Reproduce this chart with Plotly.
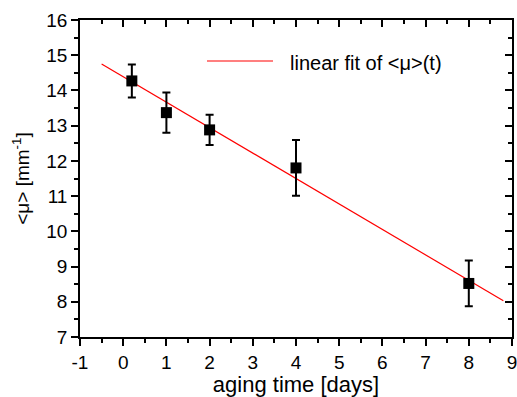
import plotly.graph_objects as go

t_days = [0.2, 1, 2, 4, 8]
mu_mean = [14.27, 13.37, 12.88, 11.8, 8.52]
mu_err = [0.47, 0.57, 0.43, 0.79, 0.65]

fit_t = [-0.5, 8.8]
fit_mu = [14.75, 8.03]

x_ticks = list(range(-1, 10))
x_labels = [str(v) for v in x_ticks]  # plain hyphen-minus as in the reference
y_ticks = list(range(7, 17))
y_labels = [str(v) for v in y_ticks]

legend_label = "linear fit of &lt;μ&gt;(t)"

FONT = "Liberation Sans, Arial, Helvetica, sans-serif"
L, R, T, B = 80, 5, 20, 60
W, H = 517, 397

fig = go.Figure()
fig.add_trace(go.Scatter(
    x=fit_t, y=fit_mu, mode="lines",
    line=dict(color="#ff0000", width=1.2),
    showlegend=False, hoverinfo="skip"))
fig.add_trace(go.Scatter(
    x=t_days, y=mu_mean, mode="markers",
    marker=dict(symbol="square", size=11, color="black"),
    error_y=dict(type="data", array=mu_err, color="black", thickness=2, width=4),
    showlegend=False))

axis_common = dict(showgrid=False, zeroline=False, linecolor="black", linewidth=1.5,
                   tickcolor="black", tickwidth=1.5, showline=True, automargin=False)

fig.update_layout(
    width=W, height=H,
    margin=dict(l=L, r=R, t=T, b=B),
    plot_bgcolor="white", paper_bgcolor="white",
    font=dict(family=FONT, color="black", size=18),
    showlegend=False,
    xaxis=dict(range=[-1, 9], tickvals=x_ticks, ticktext=x_labels, ticks="outside", ticklen=7,
               minor=dict(dtick=0.5, ticks="outside", ticklen=4, tickcolor="black", tickwidth=1.5),
               title=dict(text="aging time [days]", font=dict(size=22), standoff=2),
               tickfont=dict(size=19), ticklabeloverflow="allow", **axis_common),
    yaxis=dict(range=[7, 16], tickvals=y_ticks, ticktext=y_labels, ticks="outside", ticklen=7,
               minor=dict(dtick=0.5, ticks="outside", ticklen=4, tickcolor="black", tickwidth=1.5),
               title=dict(text="&lt;μ&gt; [mm<sup>-1</sup>]", font=dict(size=19), standoff=12),
               tickfont=dict(size=19), ticklabeloverflow="allow", **axis_common),
    xaxis2=dict(range=[-1, 9], overlaying="x", side="top", tickvals=x_ticks, ticks="inside",
                ticklen=7, showticklabels=False,
                minor=dict(dtick=0.5, ticks="inside", ticklen=4, tickcolor="black", tickwidth=1.5),
                **axis_common),
    yaxis2=dict(range=[7, 16], overlaying="y", side="right", tickvals=y_ticks, ticks="inside",
                ticklen=7, showticklabels=False,
                minor=dict(dtick=0.5, ticks="inside", ticklen=4, tickcolor="black", tickwidth=1.5),
                **axis_common),
)
fig.add_trace(go.Scatter(x=[None], y=[None], xaxis="x2", yaxis="y2", showlegend=False, hoverinfo="skip"))

# manual legend (longer line sample than plotly's built-in legend)
pw, ph = W - L - R, H - T - B
def px_x(p): return (p - L) / pw
def px_y(p): return (H - B - p) / ph
fig.add_shape(type="line", xref="paper", yref="paper",
              x0=px_x(207), x1=px_x(273), y0=px_y(61), y1=px_y(61),
              line=dict(color="#ff0000", width=1.2))
fig.add_annotation(xref="paper", yref="paper", x=px_x(288), y=px_y(63),
                   xanchor="left", yanchor="middle", showarrow=False,
                   text=legend_label, font=dict(size=20))

fig.write_html("out.html")
